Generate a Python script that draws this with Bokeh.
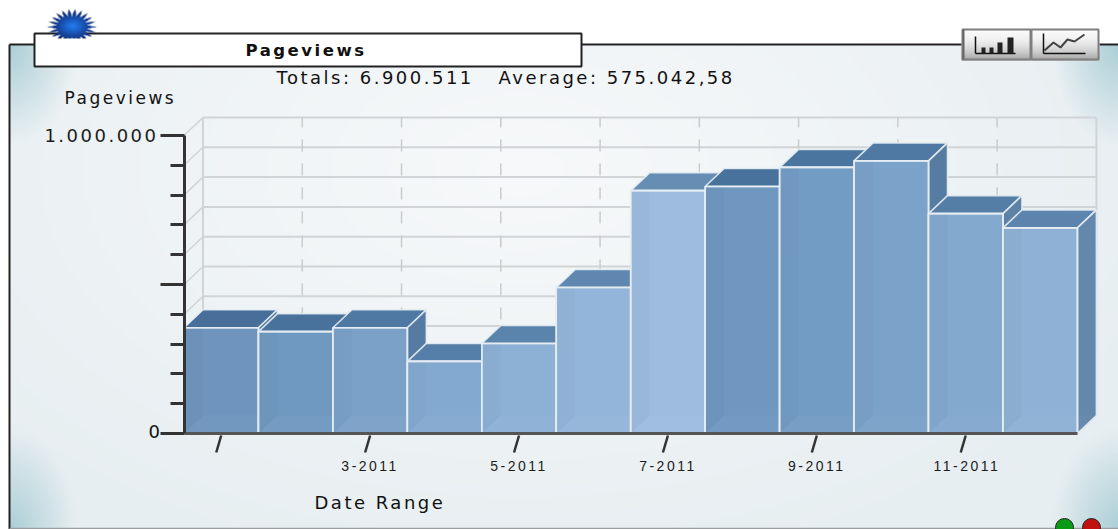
import numpy as np
from bokeh.plotting import figure
from bokeh.models import LinearAxis, FixedTicker, Range1d, Label, ColumnDataSource
from bokeh.embed import file_html
from bokeh.resources import INLINE

# ---- data ----
months = ["1-2011", "2-2011", "3-2011", "4-2011", "5-2011", "6-2011",
          "7-2011", "8-2011", "9-2011", "10-2011", "11-2011", "12-2011"]
pageviews = [355000, 342000, 355000, 242000, 302000, 490000,
             815000, 829000, 893000, 915000, 738000, 690000]
shown_months = ["3-2011", "5-2011", "7-2011", "9-2011", "11-2011"]
y_major = [0, 500000, 1000000]
y_minor = [100000, 200000, 300000, 400000, 600000, 700000, 800000, 900000]
y_labels = {0: "", 500000: "", 1000000: "1.000.000"}
title = "Pageviews"
totals_text = "Totals: 6.900.511"
average_text = "Average: 575.042,58"
y_title = "Pageviews"
x_title = "Date Range"
front_colors = ["#6f95be", "#7099c1", "#7ba1c8", "#84a9d0", "#8db0d5", "#93b5d9",
                "#9dbcde", "#6f97c0", "#739cc4", "#7ba2c9", "#84a9cf", "#8eb1d5"]

# ---- canvas geometry ----
W, H = 1118, 529
PX_PER_MONTH, PX_PER_UNIT = 74.45, 298 / 1e6
X0_PAGE, Y0_PAGE = 183.5, 433
def px(x): return (x - X0_PAGE) / PX_PER_MONTH
def py(y): return (Y0_PAGE - y) / PX_PER_UNIT
DX, DY = 19 / PX_PER_MONTH, 18 / PX_PER_UNIT
SPACING = 2.5

p = figure(width=W, height=H, output_backend="svg", toolbar_location=None,
           x_range=Range1d(px(0), px(W)), y_range=Range1d(py(H), py(0)),
           x_axis_location=None, y_axis_location=None, min_border=0,
           outline_line_color=None, background_fill_color="white", border_fill_color="white")
p.styles = {"letter-spacing": f"{SPACING}px"}
p.xgrid.visible = False
p.ygrid.visible = False

def scale(hexc, k):
    r, g, b = [int(hexc[i:i + 2], 16) for i in (1, 3, 5)]
    return "#%02x%02x%02x" % (int(r * k[0]), int(g * k[1]), int(b * k[2]))

def to_img(rgb, alpha=None):
    h, w = rgb.shape[:2]
    out = np.zeros((h, w, 4), dtype=np.uint8)
    out[..., :3] = np.clip(rgb, 0, 255)
    out[..., 3] = 255 if alpha is None else np.clip(alpha * 255, 0, 255)
    return out[::-1].copy().view(np.uint32).reshape(h, w)

def put_image(arr, x0, y0, x1, y1):
    p.image_rgba(image=[arr], x=px(x0), y=py(y1), dw=(x1 - x0) / PX_PER_MONTH, dh=(y1 - y0) / PX_PER_UNIT)

# ---- panel background ----
L, T, R, B = 9, 44, 1118, 528
yy, xx = np.mgrid[T:B:2, L:R:2]
d = np.hypot((xx - 520) / 700, (yy - 170) / 420)
light = np.array([247, 249, 250.]); mid = np.array([231, 238, 241.]); teal = np.array([172, 207, 215.])
t = np.clip(d, 0, 1)[..., None]
rgb = light * (1 - t) + mid * t
c = np.zeros_like(d)
for cx, cy in [(L, T), (L, B), (R, T), (R, B)]:
    e = np.hypot((xx - cx) / 66, (yy - cy) / 100)
    c = np.maximum(c, np.clip(1 - e, 0, 1))
rgb = rgb * (1 - c[..., None]) + teal * c[..., None]
put_image(to_img(rgb), L, T, R, B)

# panel border
p.line([px(9), px(9)], [py(529), py(44)], line_color="#222222", line_width=2)
p.line([px(9), px(1118)], [py(44), py(44)], line_color="#222222", line_width=2)
p.line([px(9), px(1118)], [py(528), py(528)], line_color="#9a9ea0", line_width=1.5)

# ---- back walls ----
gc = "#d0d4d6"
for v in [i * 100000 for i in range(11)]:
    p.line([DX, 12 + DX], [v + DY, v + DY], line_color=gc, line_width=2)
    p.line([0, DX], [v, v + DY], line_color=gc, line_width=1.5)
p.line([DX, DX], [DY, 1e6 + DY], line_color=gc, line_width=2)
p.line([12 + DX, 12 + DX], [DY, 1e6 + DY], line_color=gc, line_width=2)
p.line([12, 12 + DX], [0, DY], line_color="#dfe4e6", line_width=2.5)
for i in range(1, 9):
    xv = DX + i * 12 / 9
    p.line([xv, xv], [DY, 1e6 + DY], line_color="#c8cccc", line_width=1.5, line_dash="12 12")

# ---- 3D bars ----
K_TOP, K_SIDE = (0.65, 0.75, 0.81), (0.70, 0.77, 0.81)
xs, ys, fc, fa, la = [], [], [], [], []
def add(x, y, col, a=1.0, lw=0.9):
    xs.append(x); ys.append(y); fc.append(col); fa.append(a); la.append(lw)
for i, v in enumerate(pageviews):
    col = front_colors[i]
    add([i, i + DX, i + 1 + DX, i + 1], [v, v + DY, v + DY, v], scale(col, K_TOP))
    add([i + 1, i + 1 + DX, i + 1 + DX, i + 1], [v, v + DY, DY, 0], scale(col, K_SIDE))
    add([i, i + 1, i + 1, i], [0, 0, v, v], col)
    add([i, i + 1, i + 1 + DX, i + DX], [0, 0, DY, DY], "#ffffff", 0.03, 0)
    add([i, i + DX, i + DX, i], [0, DY, v, v], "#000000", 0.02, 0)
    add([i, i + 1, i + 1, i], [0, 0, v, v], col, 0, 0.9)
src = ColumnDataSource(dict(xs=xs, ys=ys, fc=fc, fa=fa, la=la))
p.patches("xs", "ys", source=src, fill_color="fc", fill_alpha="fa",
          line_color="#e6edf3", line_alpha="la", line_width=1.6)

# ---- axes ----
ax_y = LinearAxis(fixed_location=0, bounds=(0, 1000000),
                  ticker=FixedTicker(ticks=y_major, minor_ticks=y_minor),
                  major_label_overrides=y_labels)
ax_y.axis_line_color = "#333333"; ax_y.axis_line_width = 3
ax_y.major_tick_line_color = "#333333"; ax_y.major_tick_line_width = 3
ax_y.minor_tick_line_color = "#333333"; ax_y.minor_tick_line_width = 3
ax_y.major_tick_in = 0; ax_y.major_tick_out = 24
ax_y.minor_tick_in = 0; ax_y.minor_tick_out = 14
ax_y.major_label_standoff = 24
ax_y.major_label_text_font = "DejaVu Sans"; ax_y.major_label_text_font_size = "18px"
ax_y.major_label_text_color = "#1c1c1c"
p.add_layout(ax_y, "left")

# tick labels are anchored by their unspaced width, so they sit half the letter spacing left of the mark
LABEL_SHIFT = 3 * SPACING / PX_PER_MONTH
tick_idx = [months.index(m) for m in shown_months]
label_ticks = {i + 0.5 - LABEL_SHIFT: months[i] for i in tick_idx}
ax_x = LinearAxis(fixed_location=0, bounds=(0, 12),
                  ticker=FixedTicker(ticks=list(label_ticks), minor_ticks=[]),
                  major_label_overrides=label_ticks)
ax_x.axis_line_color = "#555555"; ax_x.axis_line_width = 3
ax_x.major_tick_in = 0; ax_x.major_tick_out = 0
ax_x.major_label_standoff = 27
ax_x.major_label_text_font = "Liberation Sans"; ax_x.major_label_text_font_size = "14px"
ax_x.major_label_text_color = "#1c1c1c"
p.add_layout(ax_x, "below")

# slanted x ticks
slant = [0] + tick_idx
p.segment(x0=[i + 0.5 for i in slant], y0=[py(435)] * len(slant),
          x1=[i + 0.5 - 5 / PX_PER_MONTH for i in slant], y1=[py(452)] * len(slant),
          line_color="#333333", line_width=2.5)

# ---- title box ----
p.quad(left=[px(34)], right=[px(581)], top=[py(33)], bottom=[py(66)],
       fill_color="white", line_color="#222222", line_width=2)

# sun
yy, xx = np.mgrid[7:38, 46:96]
rx = (xx - 71) / 25; ry = (yy - 26) / 19
rr = np.hypot(rx, ry); ang = np.arctan2(ry, rx)
edge = 0.62 + 0.38 * np.abs(((ang * 22 / (2 * np.pi)) % 1) * 2 - 1)
alpha = np.clip((edge - rr) * 10, 0, 1)
f = np.clip(np.hypot((xx - 72) / 23, (yy - 25) / 15), 0, 1)[..., None]
rgb = np.array([36, 125, 245.]) * (1 - f) + np.array([14, 40, 110.]) * f
put_image(to_img(rgb, alpha), 46, 7, 96, 38)

# ---- chart-type buttons ----
yy = np.linspace(0, 1, 32)[:, None, None]
grad = np.array([250, 250, 250.]) * (1 - yy ** 2) + np.array([165, 165, 165.]) * yy ** 2
grad = np.repeat(grad, 2, axis=1)
put_image(to_img(grad), 961, 28, 1099, 60)
p.quad(left=[px(962), px(1031)], right=[px(1030), px(1098)], top=[py(29)] * 2, bottom=[py(59)] * 2,
       fill_color=None, line_color="#7f7f7f", line_width=2)
p.line([px(963), px(963)], [py(29), py(59)], line_color="#666666", line_width=2)
p.line([px(975), px(1015)], [py(53), py(53)], line_color="#111111", line_width=1.5)
p.line([px(975), px(975)], [py(53), py(36)], line_color="#111111", line_width=1.5)
p.quad(left=[px(981), px(989), px(997), px(1007)], right=[px(985), px(993), px(1002), px(1013)],
       top=[py(47), py(47), py(42), py(37)], bottom=[py(53)] * 4, fill_color="#222222", line_color=None)
p.line([px(1043), px(1043)], [py(33), py(53)], line_color="#111111", line_width=1.5)
p.line([px(1043), px(1085)], [py(53), py(53)], line_color="#111111", line_width=1.5)
p.line([px(1044), px(1053), px(1060), px(1067), px(1074), px(1084)],
       [py(50), py(42), py(47), py(39), py(41), py(34)], line_color="#444444", line_width=2)

# status lights
p.scatter([px(1064), px(1091)], [py(527), py(527)], size=18, marker="circle",
          fill_color=["#0a9a14", "#c01010"], line_color="#222222", line_width=1)

# ---- texts ----
def label(x, y, text, size, bold=False, font="DejaVu Sans"):
    p.add_layout(Label(x=px(x), y=py(y), text=text, text_font=font, text_font_size=size,
                       text_font_style="bold" if bold else "normal",
                       text_color="#111111", text_align="left", text_baseline="middle"))
label(245, 50, title, "16.5px", bold=True)
label(276, 77, totals_text, "18px")
label(498, 77, average_text, "18px")
label(64, 97, y_title, "17px")
label(314, 502, x_title, "18px")
label(148, 431, "0", "18px")

open("out.html", "w").write(file_html(p, INLINE))
